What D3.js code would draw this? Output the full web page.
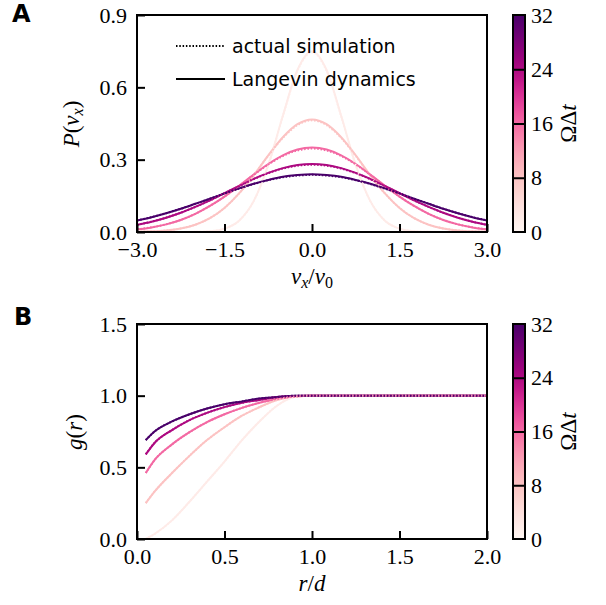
<!DOCTYPE html>
<html><head><meta charset="utf-8">
<script src="https://cdn.jsdelivr.net/npm/d3@7"></script>
<style>body{margin:0;background:#fff} svg{display:block} .serif{font-family:"Liberation Serif","DejaVu Serif",serif} .sans{font-family:"DejaVu Sans",sans-serif}</style>
</head><body><svg id="c" width="606" height="605"></svg>
<script>
// ---- data ----
const dtValues = [2, 8, 16, 24, 32];           // Omega*Delta t of each curve
const cbTicks = [0, 8, 16, 24, 32];
const vGrid = [-3,-2.75,-2.5,-2.25,-2,-1.75,-1.5,-1.25,-1,-0.75,-0.5,-0.25,0,0.25,0.5,0.75,1,1.25,1.5,1.75,2,2.25,2.5,2.75,3];
// Panel A: velocity distributions, Langevin dynamics (solid)
const pLangevin02 = [0,0,0,0.0001,0.0006,0.0034,0.014,0.047,0.128,0.278,0.482,0.672,0.750,0.672,0.482,0.278,0.128,0.047,0.014,0.0034,0.0006,0.0001,0,0,0];
const pLangevin08 = [0.0010,0.0026,0.0064,0.0145,0.0301,0.0573,0.0999,0.160,0.235,0.318,0.393,0.447,0.467,0.447,0.393,0.318,0.235,0.160,0.0999,0.0573,0.0301,0.0145,0.0064,0.0026,0.0010];
const pLangevin16 = [0.0110,0.0191,0.0316,0.0499,0.0751,0.108,0.147,0.192,0.238,0.282,0.318,0.342,0.350,0.342,0.318,0.282,0.238,0.192,0.147,0.108,0.0751,0.0499,0.0316,0.0191,0.0110];
const pLangevin24 = [0.0298,0.0426,0.0592,0.0796,0.104,0.131,0.161,0.191,0.220,0.245,0.265,0.278,0.282,0.278,0.265,0.245,0.220,0.191,0.161,0.131,0.104,0.0796,0.0592,0.0426,0.0298];
const pLangevin32 = [0.0475,0.0615,0.0778,0.0963,0.117,0.138,0.160,0.181,0.200,0.216,0.229,0.236,0.239,0.236,0.229,0.216,0.200,0.181,0.160,0.138,0.117,0.0963,0.0778,0.0615,0.0475];
// Panel A: actual simulation (dotted)
const pSim02 = [0,0,0,0.0001,0.0006,0.0034,0.014,0.047,0.128,0.277,0.480,0.668,0.745,0.668,0.480,0.277,0.128,0.047,0.014,0.0034,0.0006,0.0001,0,0,0];
const pSim08 = [0.0012,0.0028,0.0066,0.0148,0.0305,0.0577,0.1003,0.160,0.234,0.316,0.390,0.443,0.463,0.443,0.390,0.316,0.234,0.160,0.1003,0.0577,0.0305,0.0148,0.0066,0.0028,0.0012];
const pSim16 = [0.0113,0.0194,0.0319,0.0502,0.0754,0.108,0.147,0.191,0.237,0.280,0.315,0.338,0.346,0.338,0.315,0.280,0.237,0.191,0.147,0.108,0.0754,0.0502,0.0319,0.0194,0.0113];
const pSim24 = [0.0301,0.0429,0.0595,0.0799,0.104,0.131,0.161,0.190,0.219,0.244,0.263,0.275,0.279,0.275,0.263,0.244,0.219,0.190,0.161,0.131,0.104,0.0799,0.0595,0.0429,0.0301];
const pSim32 = [0.0478,0.0618,0.0781,0.0966,0.117,0.138,0.160,0.180,0.199,0.215,0.227,0.234,0.237,0.234,0.227,0.215,0.199,0.180,0.160,0.138,0.117,0.0966,0.0781,0.0618,0.0478];
// Panel B: pair correlation g(r)
const rGrid = [0.05,0.1,0.2,0.3,0.4,0.5,0.6,0.7,0.8,0.9,1.0,1.25,1.5,1.75,2.0];
const gLangevin02 = [0.0,0.035,0.13,0.26,0.40,0.54,0.69,0.82,0.93,0.99,1.0,1.0,1.0,1.0,1.0];
const gLangevin08 = [0.25,0.33,0.46,0.58,0.69,0.78,0.86,0.92,0.97,0.995,1.0,1.0,1.0,1.0,1.0];
const gLangevin16 = [0.46,0.55,0.66,0.745,0.815,0.87,0.915,0.95,0.978,0.995,1.0,1.0,1.0,1.0,1.0];
const gLangevin24 = [0.59,0.67,0.76,0.83,0.88,0.92,0.95,0.97,0.99,0.998,1.0,1.0,1.0,1.0,1.0];
const gLangevin32 = [0.69,0.75,0.82,0.87,0.91,0.94,0.96,0.98,0.99,1.0,1.0,1.0,1.0,1.0,1.0];
const gSim02 = gLangevin02, gSim08 = gLangevin08, gSim16 = gLangevin16, gSim24 = gLangevin24, gSim32 = gLangevin32;
const xTicksA = [-3, -1.5, 0, 1.5, 3];
const yTicksA = [0, 0.3, 0.6, 0.9];
const xTicksB = [0, 0.5, 1.0, 1.5, 2.0];
const yTicksB = [0, 0.5, 1.0, 1.5];
const legendLabels = ["actual simulation", "Langevin dynamics"];

const langA = [pLangevin02,pLangevin08,pLangevin16,pLangevin24,pLangevin32];
const simA = [pSim02,pSim08,pSim16,pSim24,pSim32];
const langB = [gLangevin02,gLangevin08,gLangevin16,gLangevin24,gLangevin32];
const simB = [gSim02,gSim08,gSim16,gSim24,gSim32];

// ---- drawing ----
const svg = d3.select("#c");
const color = v => d3.interpolateRdPu(v / 32);
const fmtTick = d => (d < 0 ? "\u2212" : "") + Math.abs(d).toFixed(1);
const TF = "22px";

function panel(cfg) {
  const {left, right, top, bottom, xDomain, yDomain, xTicks, yTicks, xs, lang, sim, id} = cfg;
  const x = d3.scaleLinear().domain(xDomain).range([left, right]);
  const y = d3.scaleLinear().domain(yDomain).range([bottom, top]);
  svg.append("clipPath").attr("id", id).append("rect")
    .attr("x", left).attr("y", top - 2).attr("width", right - left).attr("height", bottom - top + 2);
  const g = svg.append("g").attr("clip-path", `url(#${id})`);
  const line = d3.line().x((d, i) => x(xs[i])).y(d => y(d)).curve(d3.curveMonotoneX);
  lang.forEach((arr, k) => {
    g.append("path").attr("d", line(arr)).attr("fill", "none")
      .attr("stroke", color(dtValues[k])).attr("stroke-width", 2);
  });
  sim.forEach((arr, k) => {
    g.append("path").attr("d", line(arr)).attr("fill", "none")
      .attr("stroke", color(dtValues[k])).attr("stroke-width", 2)
      .attr("stroke-dasharray", "1.5,1.8");
  });
  svg.append("rect").attr("x", left).attr("y", top).attr("width", right - left).attr("height", bottom - top)
    .attr("fill", "none").attr("stroke", "#000").attr("stroke-width", 2);
  const axX = svg.append("g").attr("transform", `translate(0,${bottom})`)
    .call(d3.axisBottom(x).tickValues(xTicks).tickSize(-8).tickPadding(10).tickFormat(fmtTick));
  axX.select(".domain").remove();
  axX.selectAll(".tick line").attr("stroke", "#000").attr("stroke-width", 2);
  axX.selectAll(".tick text").attr("class", "serif").style("font-size", TF).attr("fill", "#000")
    .attr("dy", "0.71em").attr("y", 9);
  const axY = svg.append("g").attr("transform", `translate(${left},0)`)
    .call(d3.axisLeft(y).tickValues(yTicks).tickSize(-8).tickPadding(10).tickFormat(fmtTick));
  axY.select(".domain").remove();
  axY.selectAll(".tick line").attr("stroke", "#000").attr("stroke-width", 2);
  axY.selectAll(".tick text").attr("class", "serif").style("font-size", TF).attr("fill", "#000").attr("x", -10);
  // colorbar
  const cbL = 513, cbW = 12;
  const cy = d3.scaleLinear().domain([0, 32]).range([bottom, top]);
  const gradId = id + "grad";
  const grad = svg.append("defs").append("linearGradient").attr("id", gradId)
    .attr("x1", 0).attr("y1", 1).attr("x2", 0).attr("y2", 0);
  d3.range(0, 1.0001, 0.05).forEach(t => grad.append("stop").attr("offset", t).attr("stop-color", d3.interpolateRdPu(t)));
  svg.append("rect").attr("x", cbL).attr("y", top).attr("width", cbW).attr("height", bottom - top)
    .attr("fill", `url(#${gradId})`).attr("stroke", "#000").attr("stroke-width", 2);
  const axC = svg.append("g").attr("transform", `translate(${cbL + cbW},0)`)
    .call(d3.axisRight(cy).tickValues(cbTicks).tickSize(-cbW).tickPadding(6).tickFormat(d3.format("d")));
  axC.select(".domain").remove();
  axC.selectAll(".tick line").attr("stroke", "#000").attr("stroke-width", 2)
    .style("display", d => (d === 0 || d === 32) ? "none" : null);
  axC.selectAll(".tick text").attr("class", "serif").style("font-size", TF).attr("fill", "#000").attr("x", 6);
  const cl = svg.append("text").attr("class", "serif").attr("transform", `translate(568,${(top + bottom) / 2}) rotate(-90)`)
    .attr("text-anchor", "middle").attr("dominant-baseline", "central").style("font-size", "23px");
  cl.append("tspan").text("\u03A9\u0394");
  cl.append("tspan").attr("font-style", "italic").text("t");
  return {x, y};
}

panel({left:137, right:487, top:15, bottom:232, xDomain:[-3,3], yDomain:[0,0.9],
  xTicks:xTicksA, yTicks:yTicksA, xs:vGrid, lang:langA, sim:simA, id:"clipA"});
panel({left:137, right:487, top:324, bottom:539, xDomain:[0,2], yDomain:[0,1.5],
  xTicks:xTicksB, yTicks:yTicksB, xs:rGrid, lang:langB, sim:simB, id:"clipB"});

// axis labels
function sub(t, s, italic) {
  t.append("tspan").attr("dy", 4).style("font-size", "16px")
    .attr("font-style", italic ? "italic" : "normal").text(s);
}
function mk(x, y, rot) {
  return svg.append("text").attr("class", "serif")
    .attr("transform", rot ? `translate(${x},${y}) rotate(-90)` : `translate(${x},${y})`)
    .attr("text-anchor", "middle").style("font-size", "23px");
}
const xa = mk(312, 284, false);
xa.append("tspan").attr("font-style", "italic").text("v");
sub(xa, "x", true);
xa.append("tspan").attr("dy", -4).text("/");
xa.append("tspan").attr("font-style", "italic").text("v");
sub(xa, "0", false);

const xb = mk(312, 591, false);
xb.append("tspan").attr("font-style", "italic").text("r");
xb.append("tspan").text("/");
xb.append("tspan").attr("font-style", "italic").text("d");

const ya = mk(79, 124, true);
ya.append("tspan").attr("font-style", "italic").text("P");
ya.append("tspan").text("(");
ya.append("tspan").attr("font-style", "italic").text("v");
sub(ya, "x", true);
ya.append("tspan").attr("dy", -4).text(")");

const yb = mk(82, 432, true);
yb.append("tspan").attr("font-style", "italic").text("g");
yb.append("tspan").text("(");
yb.append("tspan").attr("font-style", "italic").text("r");
yb.append("tspan").text(")");

// panel letters
svg.append("text").attr("class", "sans").attr("x", 12).attr("y", 22).attr("font-weight", "bold")
  .style("font-size", "24px").text("A");
svg.append("text").attr("class", "sans").attr("x", 14).attr("y", 325).attr("font-weight", "bold")
  .style("font-size", "24px").text("B");

// legend
const lg = svg.append("g");
[[46, "1.5,1.8"], [79, null]].forEach(([yy, dash], i) => {
  const l = lg.append("line").attr("x1", 176).attr("x2", 225).attr("y1", yy).attr("y2", yy)
    .attr("stroke", "#000").attr("stroke-width", 2);
  if (dash) l.attr("stroke-dasharray", dash);
  lg.append("text").attr("class", "sans").attr("x", 232).attr("y", yy + 7).style("font-size", "19px")
    .attr("fill", "#000").text(legendLabels[i]);
});
</script></body></html>
